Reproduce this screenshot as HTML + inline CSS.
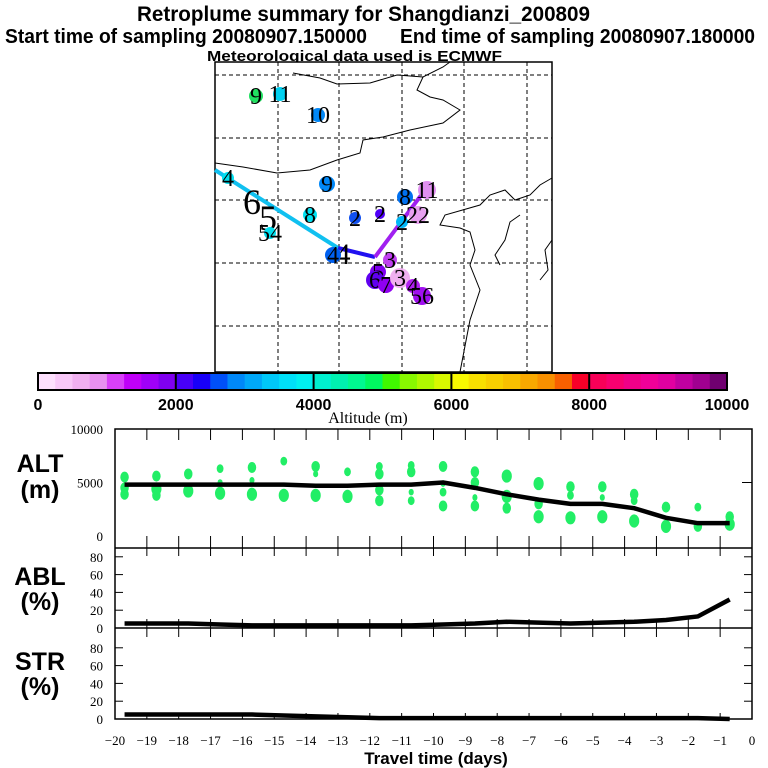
<!DOCTYPE html>
<html><head><meta charset="utf-8"><style>
html,body{margin:0;padding:0;background:#fff}
svg{display:block}
.t{font-family:"Liberation Sans",sans-serif;font-weight:bold}
.s{font-family:"Liberation Serif",serif}
</style></head><body>
<svg id="c" width="768" height="768" viewBox="0 0 768 768">
<g>
<text class="t" x="137" y="21" font-size="21" textLength="453" lengthAdjust="spacingAndGlyphs">Retroplume summary for Shangdianzi_200809</text>
<text class="t" x="5" y="43" font-size="20" textLength="362" lengthAdjust="spacingAndGlyphs">Start time of sampling 20080907.150000</text>
<text class="t" x="400" y="43" font-size="20" textLength="355" lengthAdjust="spacingAndGlyphs">End time of sampling 20080907.180000</text>
<text class="t" x="207" y="61" font-size="15" textLength="295" lengthAdjust="spacingAndGlyphs">Meteorological data used is ECMWF</text>
</g>
<g id="map"></g>
<g id="cbar"></g>
<g id="panels"></g>
</svg>
<script>
// ---- data ----
const days = [-19.7,-18.7,-17.7,-16.7,-15.7,-14.7,-13.7,-12.7,-11.7,-10.7,-9.7,-8.7,-7.7,-6.7,-5.7,-4.7,-3.7,-2.7,-1.7,-0.7];
const altMean = [4800,4800,4800,4800,4800,4800,4700,4700,4800,4800,5000,4500,3900,3400,3000,3000,2600,1700,1200,1200];
const ablDays = [-19.7,-18.7,-17.7,-16.7,-15.7,-14.7,-13.7,-12.7,-11.7,-10.7,-9.7,-8.7,-7.7,-6.7,-5.7,-4.7,-3.7,-2.7,-1.7,-0.7];
const ablVals = [5,5,5,4,3,3,3,3,3,3,4,5,7,6,5,6,7,9,13,32];
const strVals = [5,5,5,5,5,4,3,2,1,1,1,1,1,1,1,1,1,1,1,0];
const dotDays = [-19.7,-19.7,-19.7,-18.7,-18.7,-18.7,-17.7,-17.7,-16.7,-16.7,-16.7,-15.7,-15.7,-15.7,-14.7,-14.7,-13.7,-13.7,-13.7,-12.7,-12.7,-11.7,-11.7,-11.7,-11.7,-10.7,-10.7,-10.7,-10.7,-9.7,-9.7,-9.7,-9.7,-8.7,-8.7,-8.7,-8.7,-7.7,-7.7,-7.7,-6.7,-6.7,-6.7,-5.7,-5.7,-5.7,-4.7,-4.7,-4.7,-3.7,-3.7,-3.7,-2.7,-2.7,-1.7,-1.7,-0.7,-0.7];
const dotAlts = [5500,4500,3900,5600,4400,3800,5800,4200,6300,5000,4000,6400,5200,3900,7000,3800,6500,5800,3800,6000,3700,6500,5800,4300,3300,6600,6000,4100,3300,6500,4900,4100,2800,6000,5000,3600,2800,5600,3700,2600,4900,3000,1800,4600,3800,1700,4600,3600,1800,3900,3300,1400,2700,900,2700,900,1800,1100];
const dotSizes = [5,5,5,5,6,5,5,6,4,3,6,5,3,6,4,6,5,3,6,4,6,4,5,5,5,4,5,3,4,5,3,4,5,5,5,3,5,6,6,5,6,5,6,5,4,6,5,3,6,5,4,6,5,6,4,5,5,6];
const xTicks = [-20,-19,-18,-17,-16,-15,-14,-13,-12,-11,-10,-9,-8,-7,-6,-5,-4,-3,-2,-1,0];
const pctTicks = [0,20,40,60,80];
const altTicks = [0,5000,10000];
const cbColors = ["#fde0fd","#f8c8f8","#f0b0f0","#e890f0","#d840f8","#c000f8","#a000f8","#8000f0",
"#4800f8","#1800f8","#0050f8","#0088f8","#00a8f8","#00c8f8","#00e0f8","#00f0f0",
"#00f0d0","#00f0b0","#00f890","#00f860","#40f800","#88f800","#b0f800","#d8f800",
"#f8f800","#f8e000","#f8d000","#f8c000","#f8a800","#f89000","#f86000","#f80028",
"#f80058","#f80070","#f00088","#f00098","#e000a0","#c000a0","#a00090","#700070"];
const cbLabels = [0,2000,4000,6000,8000,10000];
const mkLabels = ["9","11","10","4","8","54","9","4","2","2","2","8","11","22","3","5","6","7","3","4","56"];
const mkX = [256,280,318,228,310,270,327,333,355,380,402,405,427,418,390,378,375,386,400,413,422];
const mkY = [96,94,115,178,215,233,184,255,218,214,222,197,190,215,260,272,280,285,278,286,296];
const mkCol = ["#20e060","#00d0f0","#0088f8","#00e0f0","#00e0f0","#00e0f0","#0088f8","#0060f0","#1050f0","#5000f8","#00b8f8","#0070f0","#e090f0","#e8a0f0","#c040f0","#8000f0","#6000f0","#9000f0","#f0b0f0","#b020f0","#a010f0"];
const mkR = [7,7,7,6,7,6,8,8,6,5,6,8,9,9,7,8,9,8,10,7,9];

const NS='http://www.w3.org/2000/svg';
function mk(p,tag,at){const e=document.createElementNS(NS,tag);for(const k in at)e.setAttribute(k,at[k]);p.appendChild(e);return e;}

// ---- panels ----
const P=document.getElementById('panels');
const X0=115,X1=752;
const xs=d=>X0+(d+20)*(X1-X0)/20;
const yAlt=v=>536-v*(536-429)/10000;
const yAbl=v=>628-v*0.89;
const yStr=v=>719-v*0.89;
let fr=mk(P,'rect',{x:X0,y:429,width:X1-X0,height:290,fill:'none',stroke:'#000','stroke-width':1.5});


[548,628].forEach(y=>{const l=mk(P,'line',{x1:X0,x2:X1,y1:y,y2:y,stroke:'#000','stroke-width':1.5});

});
xTicks.forEach(d=>{const x=xs(d);
 [[429,440],[536,556],[619,637],[713,719]].forEach(r=>{if(d>-20&&d<0){const t=mk(P,'line',{x1:x,x2:x,y1:r[0],y2:r[1],stroke:'#000'});
 
 }});
 const lb=mk(P,'text',{x:x,y:745,'font-size':13,'text-anchor':'middle',class:'s'});
 lb.textContent=d===0?'0':'\u2212'+Math.abs(d);
 
 });
altTicks.forEach(v=>{const y=yAlt(v);const t=mk(P,'text',{x:103,y:y+5,'font-size':13,'text-anchor':'end',class:'s'});t.textContent=v;


if(v===5000){const l=mk(P,'line',{x1:X1-10,x2:X1,y1:y,y2:y,stroke:'#000'});

}});
[[yAbl,'abl'],[yStr,'str']].forEach(([f,n])=>pctTicks.forEach(v=>{const y=f(v);
 const t=mk(P,'text',{x:103,y:y+5,'font-size':13,'text-anchor':'end',class:'s'});t.textContent=v;
 
 
 if(v>0){[[X0,X0+8],[X1-8,X1]].forEach(([a,b])=>{const l=mk(P,'line',{x1:a,x2:b,y1:y,y2:y,stroke:'#000'});
 
 });}}));
[['ALT',472,'alt'],['(m)',498,'alt'],['ABL',585,'abl'],['(%)',610,'abl'],['STR',670,'str'],['(%)',695,'str']].forEach(([s,y,n])=>{
 const t=mk(P,'text',{x:40,y:y,'font-size':25,'text-anchor':'middle',class:'t'});t.textContent=s;
 
 });
dotDays.forEach((d,i)=>{const r=dotSizes[i];const e=mk(P,'ellipse',{cx:xs(d),cy:yAlt(dotAlts[i]),rx:r*0.85,ry:r*1.1,fill:'#22ee66'});
 
 });
function line(dx,vals,f,name){const pts=vals.map((v,i)=>xs(dx[i])+','+f(v)).join(' ');
 const l=mk(P,'polyline',{points:pts,fill:'none',stroke:'#000','stroke-width':4.5,'stroke-linejoin':'round'});
 
 }
line(days,altMean,yAlt,'mean-altitude-line');
line(ablDays,ablVals,yAbl,'abl-fraction-line');
line(days,strVals,yStr,'str-fraction-line');
const xt=mk(P,'text',{x:436,y:764,'font-size':17,'text-anchor':'middle',class:'t'});xt.textContent='Travel time (days)';



// ---- colorbar ----
const C=document.getElementById('cbar');
const CB0=38,CB1=727,sw=(CB1-CB0)/cbColors.length;
cbColors.forEach((c,i)=>{const r=mk(C,'rect',{x:CB0+i*sw,y:373,width:sw+0.5,height:17,fill:c});
 
 });
mk(C,'rect',{x:CB0,y:373,width:CB1-CB0,height:17,fill:'none',stroke:'#000','stroke-width':2});
cbLabels.forEach(v=>{const x=CB0+v/10000*(CB1-CB0);
 const l=mk(C,'line',{x1:x,x2:x,y1:373,y2:390,stroke:'#000','stroke-width':2});
 
 
 const t=mk(C,'text',{x:x,y:410,'font-size':16,'text-anchor':'middle',class:'t'});t.textContent=v;
 
 });
const at=mk(C,'text',{x:368,y:423,'font-size':16,'text-anchor':'middle',class:'s'});at.textContent='Altitude (m)';



// ---- map ----
const M=document.getElementById('map');
mk(M,'rect',{x:215,y:62,width:337,height:310,fill:'#fff',stroke:'#000','stroke-width':1.5});
[278,339,402,464,527].forEach(x=>{const l=mk(M,'line',{x1:x,x2:x,y1:62,y2:372,stroke:'#000','stroke-dasharray':'4,3'});
 
 });
[75,138,200,263,326].forEach(y=>{const l=mk(M,'line',{x1:215,x2:552,y1:y,y2:y,stroke:'#000','stroke-dasharray':'4,3'});
 
 });
['293,73 320,78 337,84 370,83 397,75 423,77 443,67 450,62',
 '423,77 417,90 430,97 443,100 460,110 443,123 410,130 383,137 363,140 360,153 337,160 310,170 277,173 243,167 215,163',
 '552,178 540,185 530,195 515,200 505,190 490,195 480,205 445,215 440,225 460,228 470,232 475,250 470,265 480,290 470,320 460,372',
 '520,215 510,222 505,240 495,255 500,265',
 '552,240 545,250 548,270 540,280'].forEach(p=>{const l=mk(M,'polyline',{points:p,fill:'none',stroke:'#000','stroke-width':1});
 
 });
[['215,170 338,248','#10c0f0'],['338,248 375,257','#2010f0'],['375,257 425,190','#a020f0']].forEach(([p,c])=>{
 const l=mk(M,'polyline',{points:p,fill:'none',stroke:c,'stroke-width':4});
 
 });
[['6',252,214,36],['5',268,230,36],['4',343,264,30]].forEach(([s,x,y,f])=>{const t=mk(M,'text',{x:x,y:y,'font-size':f,'text-anchor':'middle',class:'s'});t.textContent=s;
 
 });
mkLabels.forEach((s,i)=>{const c=mk(M,'circle',{cx:mkX[i],cy:mkY[i],r:mkR[i],fill:mkCol[i]});
 
 
 const t=mk(M,'text',{x:mkX[i],y:mkY[i]+8,'font-size':24,'text-anchor':'middle',class:'s'});t.textContent=s;
 
 });
</script>
</body></html>
